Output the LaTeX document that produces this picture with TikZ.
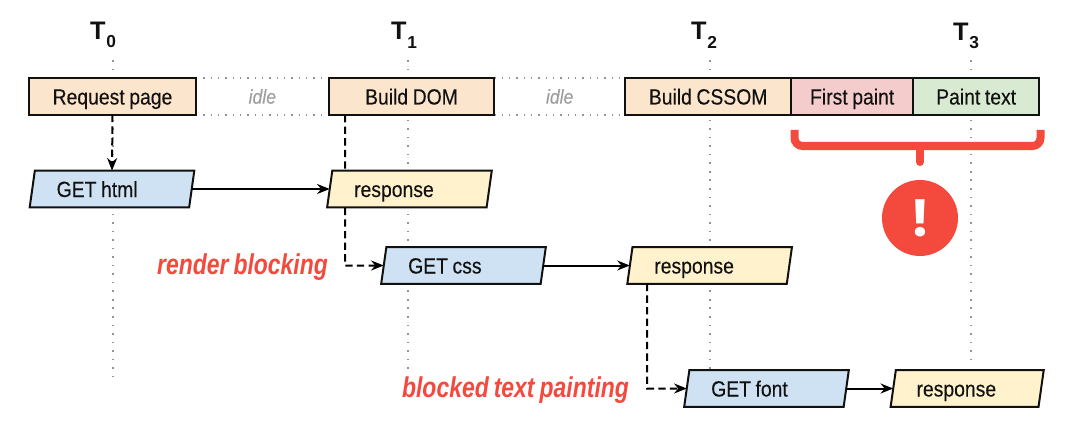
\documentclass[tikz,border=0pt]{standalone}
\usepackage{fontspec}
\setmainfont[FakeStretch=0.88,WordSpace=0.85,FakeBold=0.2]{Liberation Sans}
\newfontfamily\timefont{Liberation Sans}
\newfontfamily\blockfont[FakeStretch=0.8,WordSpace=0.8]{Liberation Sans}
\newfontfamily\alertfont{Poppins}
\usepackage{tikz}
\usetikzlibrary{shapes,arrows,arrows.meta,positioning,calc,backgrounds}

\definecolor{taskorange}{HTML}{FCE5CD}
\definecolor{paintpink}{HTML}{F4CCCC}
\definecolor{paintgreen}{HTML}{D9EAD3}
\definecolor{reqblue}{HTML}{CFE2F3}
\definecolor{respyellow}{HTML}{FFF2CC}
\definecolor{alertred}{HTML}{F44A3E}
\definecolor{inkblack}{HTML}{111111}

\newcommand{\timelabel}[1]{T\raisebox{-6.5pt}{\fontsize{13}{13}\selectfont\hspace{0.5pt}#1}}

\begin{document}
\begin{tikzpicture}[x=0.75pt, y=-0.75pt,
    task/.style={rectangle, draw=inkblack, line width=1.5pt, fill=taskorange, text=inkblack, minimum width=125pt, minimum height=27.5pt, inner sep=0pt, outer sep=0pt, font=\fontsize{16.5}{18}\selectfont, text height=12pt, text depth=0pt},
    net/.style={trapezium, trapezium left angle=77, trapezium right angle=103, trapezium stretches=true, draw=inkblack, line width=1.5pt, text=inkblack, minimum width=124.5pt, minimum height=27.5pt, inner sep=0pt, outer sep=0pt, font=\fontsize{16.5}{18}\selectfont, text height=12pt, text depth=0pt, text width=83pt, align=flush left},
    req/.style={net, fill=reqblue},
    resp/.style={net, fill=respyellow},
    tlabel/.style={font=\timefont\fontsize{19}{19}\selectfont\bfseries, text=inkblack, inner sep=0pt},
    idletext/.style={font=\fontsize{15}{16}\selectfont\itshape, text=black!38, inner sep=0pt},
    blocktext/.style={font=\blockfont\fontsize{21.5}{22}\selectfont\bfseries\itshape, text=alertred, inner sep=0pt},
    guide/.style={draw=black!42, line width=1.2pt, dash pattern=on 1.2pt off 5.2pt},
    idleline/.style={draw=black!42, line width=1.2pt, dash pattern=on 1.2pt off 4.3pt},
    arrow/.style={-{Stealth[length=9.5pt,width=7.5pt]}, line width=1.5pt, draw=black},
    dasharrow/.style={arrow, dash pattern=on 5.5pt off 3.2pt},
    bracket/.style={draw=alertred, line width=6pt, rounded corners=6pt}
]
\useasboundingbox (0,0) rectangle (1086,435);

% top row
\node[task, minimum width=125pt] (reqpage) at (112.5,96.5) {Request page};
\node[task, minimum width=124pt, right=99.75pt of reqpage] (builddom) {Build DOM};
\node[task, minimum width=124.5pt, right=98.25pt of builddom] (buildcssom) {Build CSSOM};
\node[task, fill=paintpink, minimum width=91.5pt, right=0pt of buildcssom] (firstpaint) {First paint};
\node[task, fill=paintgreen, minimum width=94.5pt, right=0pt of firstpaint] (painttext) {Paint text};

% time labels
\node[tlabel] (t0) at (103,35) {\timelabel{0}};
\node[tlabel] (t1) at (404,35) {\timelabel{1}};
\node[tlabel] (t2) at (704,35) {\timelabel{2}};
\node[tlabel] (t3) at (966,36) {\timelabel{3}};

% requests
\node[req] (gethtml) at (112,189) {GET html};
\node[resp, right=103.5pt of gethtml] (resp1) {response};
\node[req] (getcss) at (463.5,265.5) {GET css};
\node[resp, right=65pt of getcss] (resp2) {response};
\node[req] (getfont) at (766.5,388.5) {GET font};
\node[resp, minimum width=115.5pt, text width=76pt, right=35.25pt of getfont] (resp3) {response};

% idle gaps
\node[idletext] (idle1) at ($(reqpage.east)!0.5!(builddom.west)$) {idle};
\node[idletext] (idle2) at ($(builddom.east)!0.5!(buildcssom.west)$) {idle};

\node[blocktext] (renderblock) at (242.5,267) {render blocking};
\node[blocktext] (blockedtext) at (515.5,390) {blocked text painting};

% alert
\draw[bracket] (794.5,130) -- (794.5,146) -- (1040.5,146) -- (1040.5,130);
\draw[draw=alertred, line width=6pt, line cap=round] (920,146) -- (920,162);
\node[circle, fill=alertred, text=white, minimum size=57pt, inner sep=0pt, font=\alertfont\fontsize{38}{38}\selectfont\bfseries] (alert) at (920,218) {!};

% arrows
\draw[dasharrow] (reqpage.south) -- (gethtml.north);
\draw[arrow] (gethtml.east) -- (resp1.west);
\draw[arrow] (getcss.east) -- (resp2.west);
\draw[arrow] (getfont.east) -- (resp3.west);
\draw[dasharrow] (resp2.south west -| 647,0) -- (647,388.5) -- (getfont.west);

\begin{scope}[on background layer]
\coordinate (t0a) at (113,60);
\coordinate (t0b) at (113,380);
\coordinate (t1a) at (408,60);
\coordinate (t1b) at (408,369);
\coordinate (t2a) at (710,60);
\coordinate (t2b) at (710,369);
\coordinate (t3a) at (971,60);
\coordinate (t3b) at (971,364);
\draw[guide] (t0a) -- (t0b);
\draw[guide] (t1a) -- (t1b);
\draw[guide] (t2a) -- (t2b);
\draw[guide] (t3a) -- (t3b);
\draw[idleline] (reqpage.north east) -- (builddom.north west);
\draw[idleline] (reqpage.south east) -- (builddom.south west);
\draw[idleline] (builddom.north east) -- (buildcssom.north west);
\draw[idleline] (builddom.south east) -- (buildcssom.south west);
\draw[dasharrow] (345,115) -- (345,265.5) -- (getcss.west);
\end{scope}

\end{tikzpicture}
\end{document}
